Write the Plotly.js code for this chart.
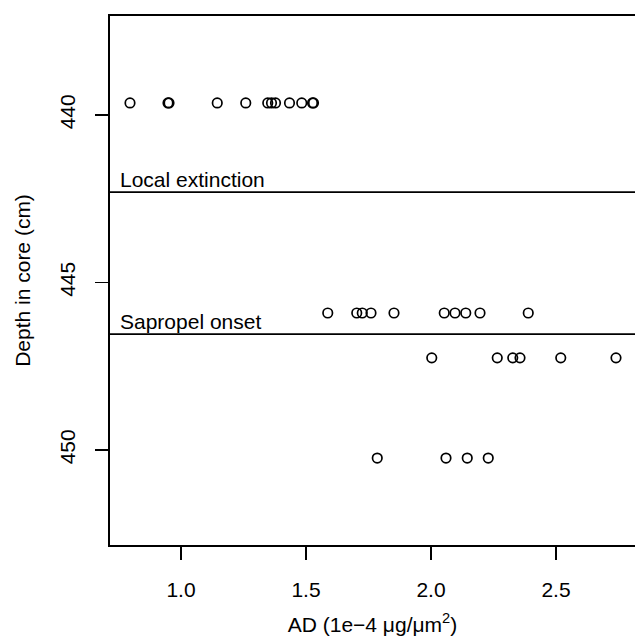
<!DOCTYPE html>
<html>
<head>
<meta charset="utf-8">
<script src="https://cdn.plot.ly/plotly-3.0.1.min.js"></script>
<style>html,body{margin:0;padding:0;background:#fff;}#chart{width:635px;height:642px;}</style>
</head>
<body>
<div id="chart"></div>
<script>
// Sample rows: depth (cm) and AD values (1e-4 ug/um^2)
const depthRow1 = 439.64;
const adRow1 = [0.796, 0.948, 0.952, 1.145, 1.259, 1.347, 1.362, 1.378, 1.434, 1.483, 1.526, 1.530];
const depthRow2 = 445.91;
const adRow2 = [1.587, 1.703, 1.725, 1.760, 1.852, 2.053, 2.096, 2.139, 2.196, 2.389];
const depthRow3 = 447.25;
const adRow3 = [2.003, 2.265, 2.327, 2.356, 2.519, 2.740];
const depthRow4 = 450.24;
const adRow4 = [1.785, 2.060, 2.145, 2.229];

// Event lines
const eventLabels = ["Local extinction", "Sapropel onset"];
const eventDepths = [442.30, 446.54];

const xTicks = [1.0, 1.5, 2.0, 2.5];
const xTickLabels = ["1.0", "1.5", "2.0", "2.5"];
const yTicks = [440, 445, 450];
const yTickLabels = ["440", "445", "450"];

const rows = [[adRow1, depthRow1], [adRow2, depthRow2], [adRow3, depthRow3], [adRow4, depthRow4]];
const xs = [], ys = [];
rows.forEach(([vals, d]) => { vals.forEach(v => { xs.push(v); ys.push(d); }); });

const font = {family: "Liberation Sans, Arial, sans-serif", size: 21, color: "#000"};

const trace = {
  x: xs, y: ys, type: "scatter", mode: "markers",
  marker: {symbol: "circle-open", size: 9.5, color: "#000", line: {width: 1.7, color: "#000"}},
  hoverinfo: "skip", showlegend: false
};

const shapes = eventDepths.map(d => ({
  type: "line", xref: "paper", x0: 0, x1: 1, yref: "y", y0: d, y1: d,
  line: {color: "#000", width: 1.8}
}));

const annotations = eventLabels.map((t, i) => ({
  text: t, xref: "paper", x: 8/525, xanchor: "left",
  yref: "y", y: eventDepths[i], yanchor: "bottom", yshift: -1,
  showarrow: false, font: font
}));

const layout = {
  width: 635, height: 642,
  margin: {l: 110, r: 0, t: 16, b: 97},
  paper_bgcolor: "#fff", plot_bgcolor: "#fff",
  font: font,
  xaxis: {
    range: [0.716, 2.816],
    tickvals: xTicks, ticktext: xTickLabels,
    ticks: "outside", ticklen: 13, tickwidth: 1.8, tickcolor: "#000",
    showline: true, linewidth: 1.8, linecolor: "#000", mirror: true,
    showgrid: false, zeroline: false,
    ticklabelstandoff: 12,
    title: {text: "AD (1e\u22124 \u03bcg/\u03bcm<sup>2</sup>)", font: font, standoff: 17}
  },
  yaxis: {
    range: [452.836, 437.045],
    tickvals: yTicks, ticktext: yTickLabels, tickangle: -90,
    ticks: "outside", ticklen: 13, tickwidth: 1.8, tickcolor: "#000",
    showline: true, linewidth: 1.8, linecolor: "#000", mirror: false,
    showgrid: false, zeroline: false,
    ticklabelstandoff: 12,
    title: {text: "Depth in core (cm)", font: font, standoff: 19}
  },
  shapes: shapes,
  annotations: annotations
};

Plotly.newPlot("chart", [trace], layout, {staticPlot: true, displayModeBar: false});
</script>
</body>
</html>
